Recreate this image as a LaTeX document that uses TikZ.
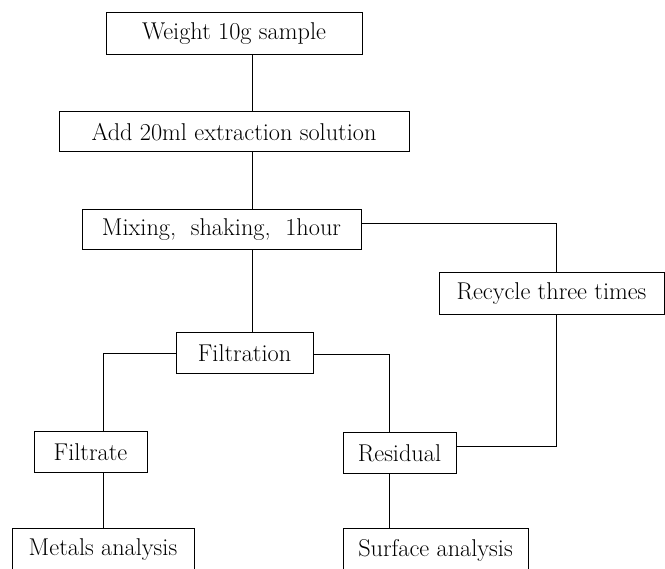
\documentclass[tikz,border=0pt]{standalone}
\begin{document}
\begin{tikzpicture}[x=1pt,y=-1pt,
  box/.style={draw,line width=1pt,inner sep=0pt,font=\fontsize{24.3}{28}\selectfont},
  conn/.style={line width=1pt}]
\useasboundingbox (0,0) rectangle (665,569);
\clip (0,0) rectangle (665,569);
\coordinate (trunk) at (252,0);
\coordinate (rx) at (556,0);
\coordinate (lx) at (103,0);
\coordinate (mx) at (389,0);
\node[box,minimum width=256pt,minimum height=42pt] (b1) at (234,34) {Weight 10g sample};
\node[box,minimum width=350pt,minimum height=40pt] (b2) at (234,132) {Add 20ml extraction solution};
\node[box,minimum width=279pt,minimum height=40pt] (b3) at (221.5,230) {Mixing,\ \ shaking,\ \ 1hour};
\node[box,minimum width=225pt,minimum height=42pt] (rec) at (551.5,294) {Recycle three times};
\node[box,minimum width=137pt,minimum height=41pt] (filt) at (244.5,353.5) {Filtration};
\node[box,minimum width=113pt,minimum height=41pt] (fte) at (90.5,452.5) {Filtrate};
\node[box,minimum width=113pt,minimum height=41pt] (res) at (399.5,453.5) {Residual};
\node[box,minimum width=182pt,minimum height=42pt] (met) at (103,550) {Metals analysis};
\node[box,minimum width=185pt,minimum height=42pt] (sur) at (435.5,550) {Surface analysis};
\draw[conn] (b1.south -| trunk) -- (b2.north -| trunk);
\draw[conn] (b2.south -| trunk) -- (b3.north -| trunk);
\draw[conn] (b3.south -| trunk) -- (filt.north -| trunk);
\draw[conn] ([yshift=6pt]b3.east) -| (rec.north -| rx);
\draw[conn] (rec.south -| rx) |- ([yshift=6.5pt]res.east);
\draw[conn] (filt.west) -| (fte.north -| lx);
\draw[conn] ([yshift=-1pt]filt.east) -| (res.north -| mx);
\draw[conn] (fte.south -| lx) -- (met.north -| lx);
\draw[conn] (res.south -| mx) -- (sur.north -| mx);
\end{tikzpicture}
\end{document}
